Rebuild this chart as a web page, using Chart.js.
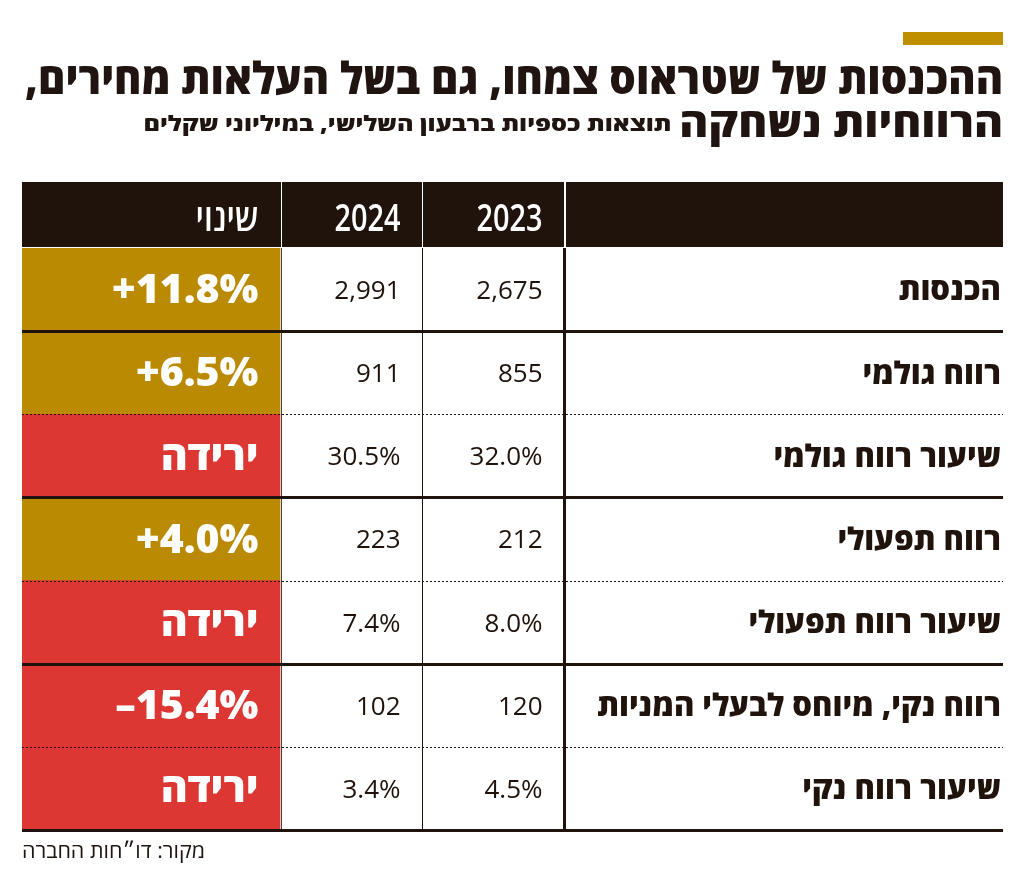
<!DOCTYPE html>
<html lang="he">
<head>
<meta charset="utf-8">
<script src="https://cdn.jsdelivr.net/npm/chart.js@4.4.1/dist/chart.umd.min.js"></script>
<style>
  html, body { margin: 0; padding: 0; background: #fff; }
  #wrap { position: relative; width: 1024px; height: 873px; overflow: hidden;
          font-family: "Open Sans", "Liberation Sans", "DejaVu Sans", sans-serif; color: #1f1410; }
  #table { position: absolute; left: 0; top: 0; }
  .bar { position: absolute; left: 903px; top: 32px; width: 100px; height: 13px; background: #bf8f00; }
  .t { position: absolute; white-space: nowrap; direction: rtl; font-weight: 800;
       transform-origin: right center; line-height: 1; }
  #t1 { right: 21px; top: 55px; font-size: 44px; }
  #t2 { right: 21px; top: 102px; font-size: 40px; }
  #t3 { right: 353px; top: 113px; font-size: 21px; }
  #src { position: absolute; left: 22px; top: 840px; font-size: 21px; direction: rtl; line-height: 1;
         transform-origin: left center; }
</style>
</head>
<body>
<div id="wrap">
  <canvas id="table" width="1024" height="873"></canvas>
  <div class="bar"></div>
  <div class="t" id="t1">ההכנסות של שטראוס צמחו, גם בשל העלאות מחירים,</div>
  <div class="t" id="t2">הרווחיות נשחקה</div>
  <div class="t" id="t3">תוצאות כספיות ברבעון השלישי, במיליוני שקלים</div>
  <div id="src">מקור: דו״חות החברה</div>
</div>
<script>
// table data
const rowLabels = ['הכנסות', 'רווח גולמי', 'שיעור רווח גולמי', 'רווח תפעולי',
  'שיעור רווח תפעולי', 'רווח נקי, מיוחס לבעלי המניות', 'שיעור רווח נקי'];
const yearLabels = ['2023', '2024'];
const changeHeader = 'שינוי';
const values2023 = [2675, 855, 32.0, 212, 8.0, 120, 4.5];
const values2024 = [2991, 911, 30.5, 223, 7.4, 102, 3.4];
const isPercent = [false, false, true, false, true, false, true];
const changeLabels = ['+11.8%', '+6.5%', 'ירידה', '+4.0%', 'ירידה', '–15.4%', 'ירידה'];
const changeUp = [true, true, false, true, false, false, false];
const groupEnd = [true, false, true, false, true, false, true];

// layout (x units of the table scale)
const EDGE_CHANGE = 258.5, EDGE_2024 = 399.5, EDGE_2023 = 541.5;
const DARK = '#1f130b', GOLD = '#b98a02', RED = '#dc3733';
const FONT = '"Open Sans", "Liberation Sans", "DejaVu Sans", sans-serif';

const fmt = (v, pct) => pct ? v.toFixed(1) + '%' : v.toLocaleString('en-US');

// fit title lines to their width in the picture
function fit(id, w) {
  const el = document.getElementById(id);
  el.style.transform = 'scaleX(' + (w / el.getBoundingClientRect().width) + ')';
}
fit('t1', 978);
fit('t2', 324);
fit('t3', 528);
fit('src', 183);

const tablePlugin = {
  id: 'tablePlugin',
  beforeDatasetsDraw(chart) {
    const { ctx, scales: { x, y } } = chart;
    const top = y.top - 66, h = 65;
    ctx.save();
    ctx.fillStyle = DARK;
    ctx.fillRect(x.left, top, x.right - x.left, h);
    ctx.fillStyle = '#fff';
    ctx.fillRect(Math.round(x.getPixelForValue(EDGE_CHANGE)), top, 1, h);
    ctx.fillRect(Math.round(x.getPixelForValue(EDGE_2024)), top, 1, h);
    ctx.fillRect(Math.round(x.getPixelForValue(EDGE_2023)), top, 2, h);
    ctx.textAlign = 'right';
    ctx.textBaseline = 'alphabetic';
    ctx.font = '600 37px ' + FONT;
    const base = top + 49;
    ctx.fillText(changeHeader, x.getPixelForValue(EDGE_CHANGE) - 22, base, 63);
    ctx.fillText(yearLabels[1], x.getPixelForValue(EDGE_2024) - 21, base, 66);
    ctx.fillText(yearLabels[0], x.getPixelForValue(EDGE_2023) - 21, base, 66);
    ctx.restore();
  },
  afterDatasetsDraw(chart) {
    const { ctx, scales: { x, y } } = chart;
    const rowH = y.getPixelForValue(1) - y.getPixelForValue(0);
    ctx.save();
    ctx.textAlign = 'right';
    ctx.textBaseline = 'middle';
    rowLabels.forEach((lab, i) => {
      const cy = y.getPixelForValue(i) + 2;
      ctx.fillStyle = DARK;
      ctx.font = '800 31px ' + FONT;
      ctx.fillText(lab, x.right - 2, cy);
      ctx.font = '26px ' + FONT;
      ctx.fillText(fmt(values2023[i], isPercent[i]), x.getPixelForValue(EDGE_2023) - 21, cy);
      ctx.fillText(fmt(values2024[i], isPercent[i]), x.getPixelForValue(EDGE_2024) - 21, cy);
      ctx.fillStyle = '#fff';
      ctx.font = '800 41px ' + FONT;
      ctx.fillText(changeLabels[i], x.getPixelForValue(EDGE_CHANGE) - 22, cy, 153);
    });
    // vertical rules
    ctx.fillStyle = '#4a3f39';
    ctx.fillRect(Math.round(x.getPixelForValue(EDGE_CHANGE)), y.top, 1, y.bottom - y.top);
    ctx.fillStyle = DARK;
    ctx.fillRect(Math.round(x.getPixelForValue(EDGE_2024)), y.top, 1, y.bottom - y.top);
    ctx.fillRect(Math.round(x.getPixelForValue(EDGE_2023)) - 1, y.top, 3, y.bottom - y.top);
    // horizontal rules
    rowLabels.forEach((lab, i) => {
      const by = Math.round(y.getPixelForValue(i) + rowH / 2);
      if (groupEnd[i]) {
        ctx.fillStyle = DARK;
        ctx.fillRect(x.left, by - 1, x.right - x.left, 3);
      } else {
        ctx.strokeStyle = DARK;
        ctx.lineWidth = 1;
        ctx.setLineDash([2, 2]);
        ctx.beginPath();
        ctx.moveTo(x.left, by + 0.5);
        ctx.lineTo(x.right, by + 0.5);
        ctx.stroke();
      }
    });
    ctx.restore();
  }
};

new Chart(document.getElementById('table'), {
  type: 'bar',
  data: {
    labels: rowLabels,
    datasets: [{
      label: changeHeader,
      data: changeUp.map(() => [0, EDGE_CHANGE - 0.5]),
      backgroundColor: changeUp.map(up => up ? GOLD : RED),
      borderWidth: 0,
      borderSkipped: false,
      barPercentage: 1,
      categoryPercentage: 1
    }]
  },
  options: {
    indexAxis: 'y',
    responsive: false,
    animation: false,
    devicePixelRatio: 1,
    layout: { padding: { left: 22, right: 21, top: 248, bottom: 43 } },
    scales: {
      x: { type: 'linear', min: 0, max: 981, display: false },
      y: { type: 'category', display: false }
    },
    plugins: { legend: { display: false }, tooltip: { enabled: false } }
  },
  plugins: [tablePlugin]
});
</script>
</body>
</html>
